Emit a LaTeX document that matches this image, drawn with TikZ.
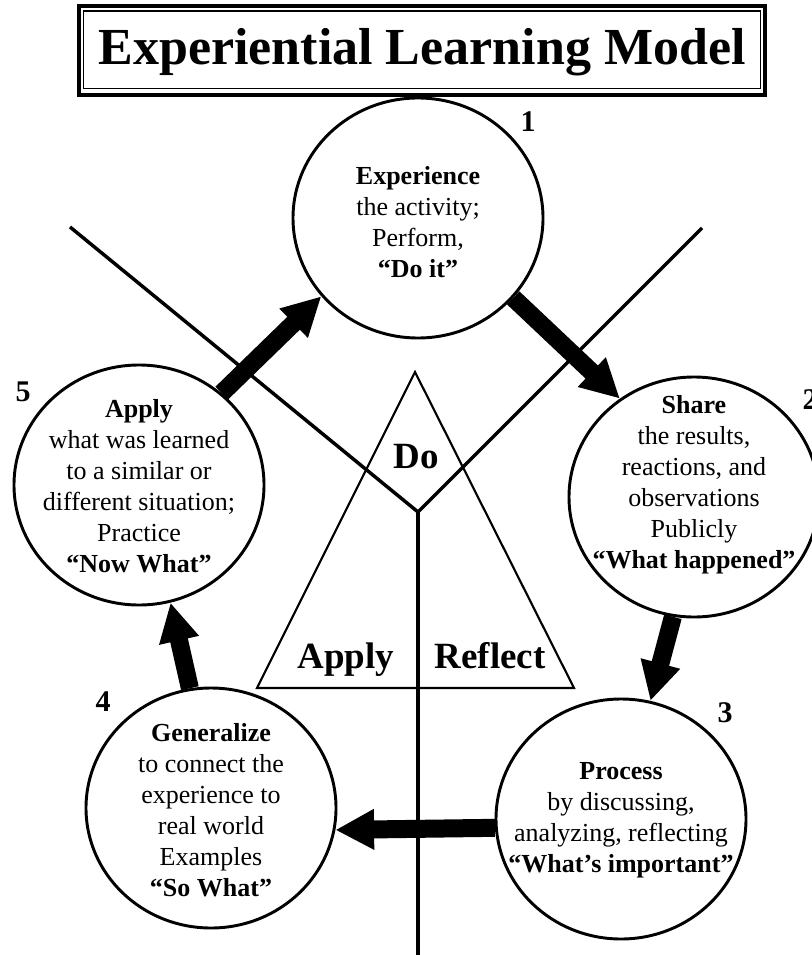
\documentclass[tikz,border=0pt]{standalone}
\usepackage{fontspec}
\setmainfont{Liberation Serif}
\usetikzlibrary{arrows.meta,shapes.geometric}

\begin{document}
\begin{tikzpicture}[x=0.75pt,y=-0.75pt,
  stage/.style = {draw, ellipse, line width=2.2pt, minimum width=187.5pt, minimum height=180pt, inner sep=0pt},
  stagetext/.style = {align=center, font=\fontsize{19.5}{23.25}\selectfont},
  stepnum/.style = {font=\fontsize{22.5}{26}\selectfont\bfseries},
  zone/.style = {font=\fontsize{27.75}{32}\selectfont\bfseries},
  flow/.style = {line width=13.5pt, -{Triangle[length=29pt,width=28.5pt]}},
  divider/.style = {line width=2.6pt}]
  \useasboundingbox (0,0) rectangle (812,955);

  % title
  \node[draw, line width=3pt, minimum width=514.5pt, minimum height=66.4pt] (frame) at (422,50.25) {};
  \node[draw, line width=1.1pt, minimum width=507.75pt, minimum height=58.1pt] (innerframe) at (422,49.75) {};
  \node[anchor=base, font=\fontsize{39}{44}\selectfont\bfseries] (title) at (422,65) {Experiential Learning Model};

  % dividing lines
  \coordinate (v) at (418,512);
  \coordinate (ul) at (70,227);
  \coordinate (ur) at (702,228);
  \coordinate (bot) at (418,955);
  \draw[divider] (ul) -- (v) -- (ur);
  \draw[divider] (v) -- (bot);

  % triangle
  \coordinate (top) at (415,372);
  \coordinate (bl) at (257,688);
  \coordinate (br) at (574,688);
  \draw[line width=1.6pt, line join=miter] (top) -- (br) -- (bl) -- cycle;
  \node[zone, anchor=base] (do) at (416,468) {Do};
  \node[zone, anchor=base] (apply) at (346,668) {Apply};
  \node[zone, anchor=base] (reflect) at (490,668) {Reflect};

  % stages
  \node[stage] (c1) at (418,218) {};
  \node[stage] (c2) at (694,497) {};
  \node[stage] (c3) at (621,819) {};
  \node[stage] (c4) at (211,808) {};
  \node[stage] (c5) at (139,485) {};

  \node[stagetext] (t1) at (418,222) {\textbf{Experience}\\the activity;\\Perform,\\\textbf{“Do it”}};
  \node[stagetext] (t2) at (694,485) {\textbf{Share}\\the results,\\reactions, and\\observations\\Publicly\\\textbf{“What happened”}};
  \node[stagetext] (t3) at (621,820) {\textbf{Process}\\by discussing,\\analyzing, reflecting\\\textbf{“What’s important”}};
  \node[stagetext] (t4) at (211,810) {\textbf{Generalize}\\to connect the\\experience to\\real world\\Examples\\\textbf{“So What”}};
  \node[stagetext] (t5) at (139,486) {\textbf{Apply}\\what was learned\\to a similar or\\different situation;\\Practice\\\textbf{“Now What”}};

  \node[stepnum] (n1) at (528,122) {1};
  \node[stepnum] (n2) at (810,400) {2};
  \node[stepnum] (n3) at (725,713) {3};
  \node[stepnum] (n4) at (103,702) {4};
  \node[stepnum] (n5) at (23,392) {5};

  % cycle
  \draw[flow] (c5.48) -- (c1.219);
  \draw[flow] (c1.320) -- (c2.127);
  \draw[flow] (c2.260) -- (c3.76);
  \draw[flow] (c3.184.5) -- (c4.350);
  \draw[flow] (c4.100) -- (c5.285);
\end{tikzpicture}
\end{document}
